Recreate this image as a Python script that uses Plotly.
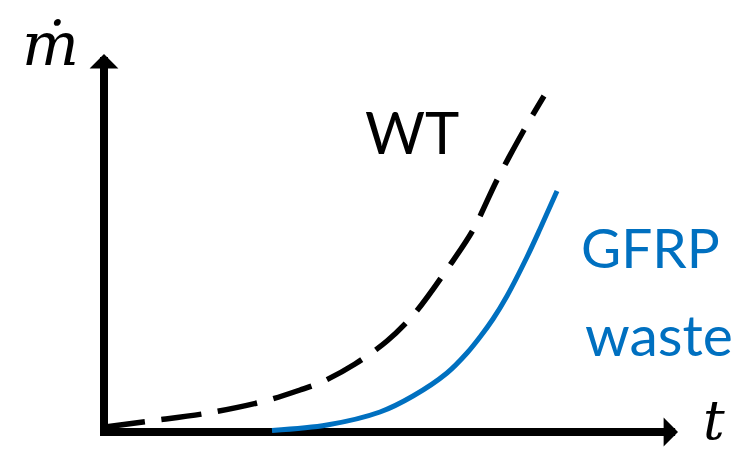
import plotly.graph_objects as go

# Schematic data (arbitrary units: time t, mass flow m-dot)
wt_t = [1, 46, 104, 161, 196, 218, 251, 283, 311, 346, 369, 393, 420, 440]
wt_m = [5, 11, 19, 31, 42, 50, 68, 91, 119, 167, 202, 252, 302, 336]

gfrp_t = [168, 223, 276, 309, 343, 363, 376, 389, 403, 423, 436, 453]
gfrp_m = [1.5, 7, 20, 36, 59, 79, 95, 113, 136, 175, 203, 241]

BLUE = "#0070C0"

fig = go.Figure()
fig.add_trace(go.Scatter(x=wt_t, y=wt_m, mode="lines",
                         line=dict(color="black", width=5.5, dash="40px,17px", shape="spline", smoothing=0.9),
                         hoverinfo="skip", showlegend=False))
fig.add_trace(go.Scatter(x=gfrp_t, y=gfrp_m, mode="lines",
                         line=dict(color=BLUE, width=5, shape="spline", smoothing=0.9),
                         hoverinfo="skip", showlegend=False))

# axis shafts (below the curves)
fig.add_shape(type="line", x0=0, y0=-4, x1=0, y1=350, xref="x", yref="y", layer="below",
              line=dict(color="black", width=8))
fig.add_shape(type="line", x0=-4, y0=0, x1=550, y1=0, xref="x", yref="y", layer="below",
              line=dict(color="black", width=8))

# arrow heads
arrow = dict(showarrow=True, arrowhead=1, arrowsize=0.6, arrowwidth=8, arrowcolor="black",
             xref="x", yref="y", axref="x", ayref="y", text="")
fig.add_annotation(x=0, y=378, ax=0, ay=340, **arrow)
fig.add_annotation(x=574, y=0, ax=540, ay=0, **arrow)

# labels
fig.add_annotation(x=-54, y=388, text="<i>ṁ</i>", showarrow=False, xanchor="center", yanchor="middle",
                   font=dict(family="DejaVu Serif", size=60, color="black"))
fig.add_annotation(x=610, y=12, text="<i>t</i>", showarrow=False, xanchor="center", yanchor="middle",
                   font=dict(family="DejaVu Serif", size=54, color="black"))
fig.add_annotation(x=308, y=301, text="WT", showarrow=False, xanchor="center", yanchor="middle",
                   font=dict(family="Lato", size=58, color="black"))
fig.add_annotation(x=546, y=185, text="GFRP", showarrow=False, xanchor="center", yanchor="middle",
                   font=dict(family="Lato", size=55, color=BLUE))
fig.add_annotation(x=555, y=98, text="waste", showarrow=False, xanchor="center", yanchor="middle",
                   font=dict(family="Lato", size=57, color=BLUE))

fig.update_xaxes(range=[-104, 638], visible=False, fixedrange=True)
fig.update_yaxes(range=[-29, 432], visible=False, fixedrange=True)
fig.update_layout(width=742, height=461, autosize=False,
                  margin=dict(l=0, r=0, t=0, b=0, pad=0),
                  plot_bgcolor="white", paper_bgcolor="white")

fig.write_html("out.html", config={"displayModeBar": False},
               post_script="document.body.style.margin='0px';")
